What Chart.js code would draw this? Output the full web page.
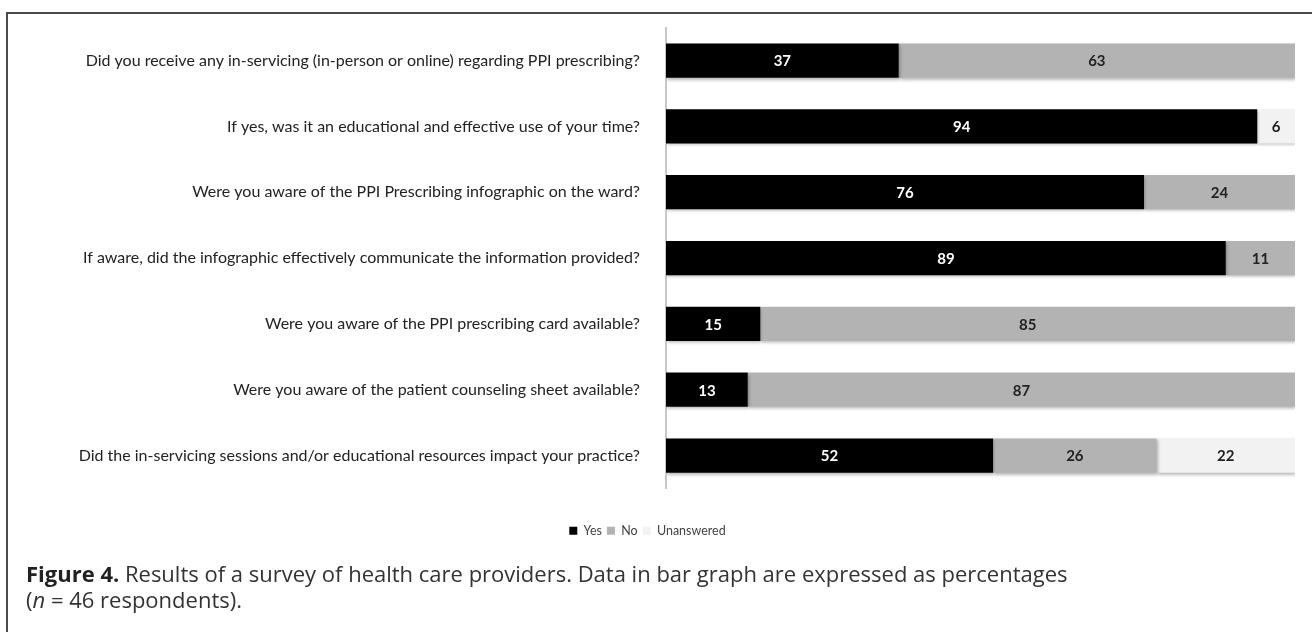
<!DOCTYPE html>
<html>
<head>
<meta charset="utf-8">
<script src="https://cdn.jsdelivr.net/npm/chart.js@4"></script>
<style>
  html, body { margin: 0; padding: 0; background: #fff; }
  #wrap { position: relative; width: 1312px; height: 632px; overflow: hidden; }
  #frame {
    position: absolute; left: 6px; top: 12px; width: 1320px; height: 640px;
    border-top: 2px solid #4a4a4a; border-left: 2px solid #4a4a4a;
  }
  #chart { position: absolute; left: 0; top: 0; }
  #caption {
    position: absolute; left: 26px; top: 560px; width: 1270px;
    font-family: "Open Sans", sans-serif; font-size: 22px; line-height: 26px; color: #333;
  }
  #caption b { color: #222; }
</style>
</head>
<body>
<div id="wrap">
  <div id="frame"></div>
  <canvas id="chart" width="1312" height="632"></canvas>
  <div id="caption"><b>Figure 4.</b> Results of a survey of health care providers. Data in bar graph are expressed as percentages<br>(<i>n</i> = 46 respondents).</div>
</div>
<script>
// survey questions, top to bottom
const questions = [
    'Did you receive any in-servicing (in-person or online) regarding PPI prescribing?',
    'If yes, was it an educational and effective use of your time?',
    'Were you aware of the PPI Prescribing infographic on the ward?',
    'If aware, did the infographic effectively communicate the information provided?',
    'Were you aware of the PPI prescribing card available?',
    'Were you aware of the patient counseling sheet available?',
    'Did the in-servicing sessions and/or educational resources impact your practice?'
];

// percentages
const yesPct        = [37, 94, 76, 89, 15, 13, 52];
const noPct         = [63,  0, 24, 11, 85, 87, 26];
const unansweredPct = [ 0,  6,  0,  0,  0,  0, 22];

// soft drop shadow under each bar segment
const barShadow = {
    id: 'barShadow',
    beforeDatasetDraw(chart) {
        const ctx = chart.ctx;
        ctx.save();
        ctx.shadowColor = 'rgba(0,0,0,0.28)';
        ctx.shadowBlur = 3;
        ctx.shadowOffsetX = 1;
        ctx.shadowOffsetY = 2;
    },
    afterDatasetDraw(chart) {
        chart.ctx.restore();
    }
};

// value text centred in each segment
const segmentLabels = {
    id: 'segmentLabels',
    afterDatasetsDraw(chart) {
        const ctx = chart.ctx;
        ctx.save();
        ctx.font = 'bold 15px Lato, sans-serif';
        ctx.textAlign = 'center';
        ctx.textBaseline = 'middle';
        chart.data.datasets.forEach((ds, di) => {
            const meta = chart.getDatasetMeta(di);
            meta.data.forEach((bar, i) => {
                const v = ds.data[i];
                if (!v) return;
                const p = bar.getProps(['x', 'y', 'base'], true);
                ctx.fillStyle = ds.labelColor;
                ctx.fillText(String(v), (p.x + p.base) / 2, p.y + 1);
            });
        });
        ctx.restore();
    }
};

new Chart(document.getElementById('chart'), {
    type: 'bar',
    data: {
        labels: questions,
        datasets: [
            { label: 'Yes', data: yesPct, backgroundColor: '#000000', labelColor: '#ffffff' },
            { label: 'No', data: noPct, backgroundColor: '#b3b3b3', labelColor: '#222222' },
            { label: 'Unanswered', data: unansweredPct, backgroundColor: '#f2f2f2', labelColor: '#222222' }
        ]
    },
    options: {
        indexAxis: 'y',
        responsive: false,
        animation: false,
        devicePixelRatio: 1,
        barPercentage: 1,
        categoryPercentage: 0.52,
        layout: { padding: { top: 19, right: 17, left: 0, bottom: 85 } },
        plugins: {
            tooltip: { enabled: false },
            legend: {
                position: 'bottom',
                labels: {
                    boxWidth: 8, boxHeight: 8, padding: 5,
                    color: '#444', font: { family: 'Lato', size: 12.5 }
                }
            }
        },
        scales: {
            x: {
                stacked: true, min: 0, max: 100,
                grid: { display: false }, border: { display: false },
                ticks: { display: false },
                afterFit: s => { s.height = 31; }
            },
            y: {
                stacked: true,
                grid: { display: false },
                border: { color: '#c8c8c8', width: 2 },
                ticks: { color: '#222', padding: 18, font: { family: 'Lato', size: 16 } },
                afterFit: s => { s.width = 666; }
            }
        }
    },
    plugins: [barShadow, segmentLabels]
});
</script>
</body>
</html>
